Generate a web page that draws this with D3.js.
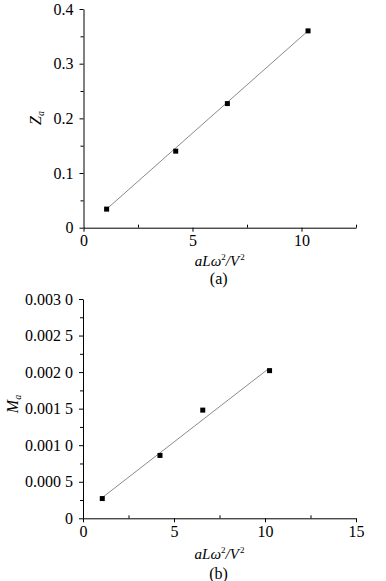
<!DOCTYPE html>
<html>
<head>
<meta charset="utf-8"/>
<script src="https://cdn.jsdelivr.net/npm/d3@7/dist/d3.min.js"></script>
<style>
  html, body { margin:0; padding:0; background:#fff; }
  svg { display:block; }
  svg text { font-family:"Liberation Serif","Times New Roman",serif; fill:#000; }
  .axis path, .axis line { stroke:#000; stroke-width:1; }
</style>
</head>
<body>
<svg width="386" height="581"></svg>
<script>
// --- data ---
const xA      = [1.06, 4.23, 6.6, 10.3];
const zA      = [0.034, 0.140, 0.227, 0.360];
const fitAX   = [1.06, 10.3];
const fitAY   = [0.034, 0.360];

const xB      = [1.06, 4.23, 6.58, 10.25];
const mB      = [0.00027, 0.00086, 0.00148, 0.00202];
const fitBX   = [1.12, 10.16];
const fitBY   = [0.000295, 0.00204];

const xTicksA      = [0, 5, 10];
const xMinorA      = [2.5, 7.5, 12.5];
const yTicksA      = [0, 0.1, 0.2, 0.3, 0.4];
const yTickLabelsA = ["0", "0.1", "0.2", "0.3", "0.4"];
const yMinorA      = [0.05, 0.15, 0.25, 0.35];

const xTicksB      = [0, 5, 10, 15];
const xMinorB      = [2.5, 7.5, 12.5];
const yTicksB      = [0, 0.0005, 0.001, 0.0015, 0.002, 0.0025, 0.003];
const yTickLabelsB = ["0", "0.000 5", "0.001 0", "0.001 5", "0.002 0", "0.002 5", "0.003 0"];
const yMinorB      = [0.00025, 0.00075, 0.00125, 0.00175, 0.00225, 0.00275];

const FS = 16;
const svg = d3.select("svg");

function panel(o) {
  const x = d3.scaleLinear().domain(o.xDomain).range([o.left, o.right]);
  const y = d3.scaleLinear().domain(o.yDomain).range([o.bottom, o.top]);
  const g = svg.append("g");

  // minor ticks
  g.append("g").attr("class", "axis")
    .attr("transform", `translate(0,${o.bottom})`)
    .call(d3.axisBottom(x).tickValues(o.xMinor).tickSize(-3).tickSizeOuter(0).tickFormat(""))
    .call(s => s.select(".domain").remove());
  g.append("g").attr("class", "axis")
    .attr("transform", `translate(${o.left},0)`)
    .call(d3.axisLeft(y).tickValues(o.yMinor).tickSize(3).tickSizeOuter(0).tickFormat(""))
    .call(s => s.select(".domain").remove());

  // major axes
  const yi = {};
  o.yTicks.forEach((v, i) => yi[v] = o.yLabels[i]);
  g.append("g").attr("class", "axis")
    .attr("transform", `translate(0,${o.bottom})`)
    .call(d3.axisBottom(x).tickValues(o.xTicks).tickSize(4).tickSizeOuter(0).tickPadding(3)
      .tickFormat(d3.format("d")))
    .call(s => s.selectAll("text").attr("font-size", FS));
  g.append("g").attr("class", "axis")
    .attr("transform", `translate(${o.left},0)`)
    .call(d3.axisLeft(y).tickValues(o.yTicks).tickSize(4).tickSizeOuter(0).tickPadding(6)
      .tickFormat(d => yi[d]))
    .call(s => s.selectAll("text").attr("font-size", FS));

  // fit line
  g.append("path")
    .datum(o.fitX.map((v, i) => [v, o.fitY[i]]))
    .attr("fill", "none").attr("stroke", "#8a8a8a").attr("stroke-width", 1)
    .attr("d", d3.line().x(d => x(d[0])).y(d => y(d[1])));

  // points
  const s = 5;
  g.selectAll("rect.pt")
    .data(o.xs.map((v, i) => [v, o.ys[i]]))
    .join("rect").attr("class", "pt")
    .attr("x", d => x(d[0]) - s / 2).attr("y", d => y(d[1]) - s / 2)
    .attr("width", s).attr("height", s).attr("fill", "#000");

  // y label
  const yl = g.append("text")
    .attr("transform", `translate(${o.yLabelX},${o.yLabelY}) rotate(-90)`)
    .attr("text-anchor", "middle").attr("font-size", FS).attr("font-style", "italic");
  yl.append("tspan").text(o.yName);
  yl.append("tspan").attr("font-size", 10).attr("dy", 3).text("a");

  // x label  aLω²/V²
  const cx = (o.left + o.right) / 2;
  const xl = g.append("text")
    .attr("x", cx).attr("y", o.xLabelY)
    .attr("text-anchor", "middle").attr("font-size", 15).attr("font-style", "italic");
  xl.append("tspan").text("aLω");
  xl.append("tspan").attr("font-size", 9).attr("font-style", "normal").attr("dy", -6).text("2");
  xl.append("tspan").attr("dy", 6).text("/V");
  xl.append("tspan").attr("font-size", 9).attr("font-style", "normal").attr("dy", -6).attr("dx", 1).text("2");

  g.append("text")
    .attr("x", cx - 1).attr("y", o.capY)
    .attr("text-anchor", "middle").attr("font-size", FS)
    .text(o.caption);
}

panel({
  xDomain: [0, 12.5], yDomain: [0, 0.4],
  left: 83.5, right: 356, top: 9, bottom: 227.7,
  xTicks: xTicksA, xMinor: xMinorA,
  yTicks: yTicksA, yLabels: yTickLabelsA, yMinor: yMinorA,
  xs: xA, ys: zA, fitX: fitAX, fitY: fitAY,
  yName: "Z", yLabelX: 41, yLabelY: 118,
  xLabelY: 266, capY: 284, caption: "(a)"
});

panel({
  xDomain: [0, 15], yDomain: [0, 0.003],
  left: 83, right: 356, top: 299, bottom: 518.3,
  xTicks: xTicksB, xMinor: xMinorB,
  yTicks: yTicksB, yLabels: yTickLabelsB, yMinor: yMinorB,
  xs: xB, ys: mB, fitX: fitBX, fitY: fitBY,
  yName: "M", yLabelX: 18, yLabelY: 404,
  xLabelY: 559, capY: 579, caption: "(b)"
});
</script>
</body>
</html>
